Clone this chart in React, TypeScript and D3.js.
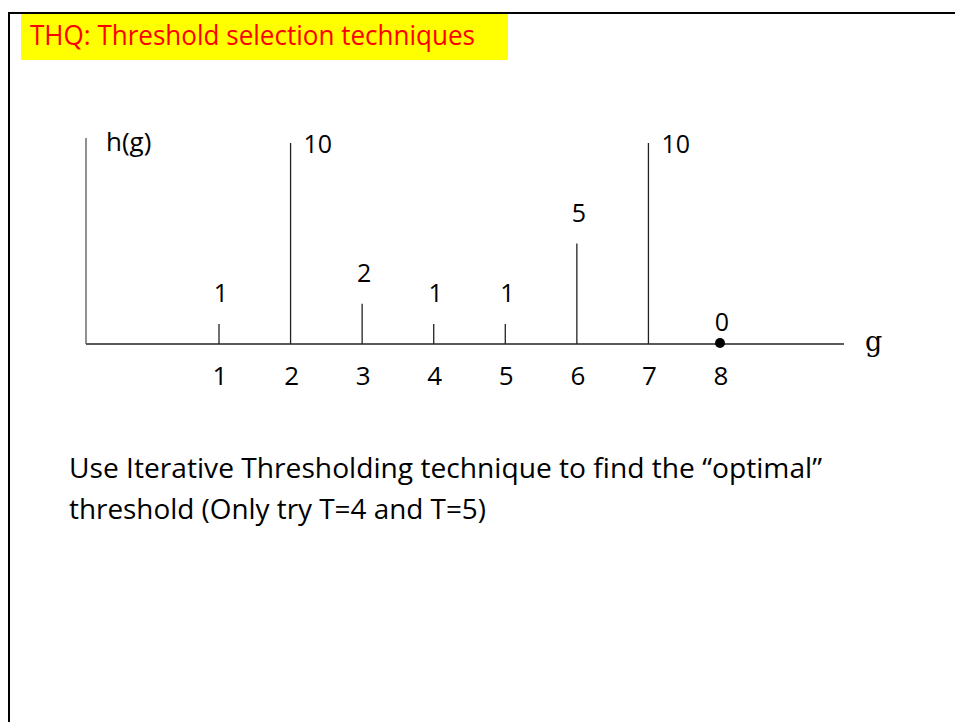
import React from "react";
import * as d3 from "d3";

const grayLevels = [1, 2, 3, 4, 5, 6, 7, 8];
const counts = [1, 10, 2, 1, 1, 5, 10, 0];
const tickLabels = ["1", "2", "3", "4", "5", "6", "7", "8"];
const titleText = "THQ: Threshold selection techniques";
const bodyLines = [
  "Use Iterative Thresholding technique to find the \u201Coptimal\u201D",
  "threshold (Only try T=4 and T=5)",
];

const W = 955;
const H = 722;
const FONT = "'Open Sans', 'Noto Sans', sans-serif";

export default function App() {
  const axisY = 344;
  const axisX = 86;
  const x = d3.scaleLinear().domain([1, 8]).range([219, 720]);
  const y = d3.scaleLinear().domain([0, 10]).range([axisY, 143]);

  return (
    <svg
      width={W}
      height={H}
      viewBox={`0 0 ${W} ${H}`}
      style={{ position: "absolute", left: 0, top: 0, background: "#fff" }}
    >
      {/* slide border */}
      <line x1={9} y1={13} x2={W} y2={13} stroke="#000" strokeWidth={2} />
      <line x1={9} y1={12} x2={9} y2={H} stroke="#000" strokeWidth={2} />

      {/* title */}
      <rect x={21} y={14} width={487} height={46} fill="#ffff00" />
      <text
        x={30}
        y={45}
        fontFamily={FONT}
        fontSize={28}
        fill="#ff0000"
        textLength={445}
        lengthAdjust="spacingAndGlyphs"
      >
        {titleText}
      </text>

      {/* axes */}
      <line x1={axisX} y1={138} x2={axisX} y2={axisY} stroke="#555" strokeWidth={1.3} />
      <line x1={axisX} y1={axisY} x2={844} y2={axisY} stroke="#5a5a5a" strokeWidth={1.8} />
      <text x={106} y={151} fontFamily={FONT} fontSize={26} fill="#000">
        h(g)
      </text>
      <text x={865} y={351} fontFamily="'DejaVu Serif', 'Liberation Serif', serif" fontSize={27} fill="#000">
        g
      </text>

      {/* stems */}
      {grayLevels.map((g, i) =>
        counts[i] > 0 ? (
          <line
            key={"s" + g}
            x1={x(g)}
            x2={x(g)}
            y1={axisY}
            y2={y(counts[i])}
            stroke="#222"
            strokeWidth={1.3}
          />
        ) : (
          <circle key={"c" + g} cx={x(g)} cy={axisY - 1} r={5} fill="#000" />
        )
      )}

      {/* value labels */}
      {grayLevels.map((g, i) => {
        const v = counts[i];
        const top = y(v);
        if (v >= 10) {
          return (
            <text key={"v" + g} x={x(g) + 13} y={top + 10} fontFamily={FONT} fontSize={25} fill="#000">
              {String(v)}
            </text>
          );
        }
        return (
          <text
            key={"v" + g}
            x={x(g) + 2}
            y={v > 0 ? top - 22 : axisY - 13}
            textAnchor="middle"
            fontFamily={FONT}
            fontSize={25}
            fill="#000"
          >
            {String(v)}
          </text>
        );
      })}

      {/* tick labels */}
      {grayLevels.map((g, i) => (
        <text
          key={"t" + g}
          x={x(g) + 1}
          y={385}
          textAnchor="middle"
          fontFamily={FONT}
          fontSize={26}
          fill="#000"
        >
          {tickLabels[i]}
        </text>
      ))}

      {/* body text */}
      <text x={69} y={478} fontFamily={FONT} fontSize={27} fill="#000" textLength={753} lengthAdjust="spacingAndGlyphs">
        {bodyLines[0]}
      </text>
      <text x={69} y={519} fontFamily={FONT} fontSize={27} fill="#000" textLength={417} lengthAdjust="spacingAndGlyphs">
        {bodyLines[1]}
      </text>
    </svg>
  );
}
